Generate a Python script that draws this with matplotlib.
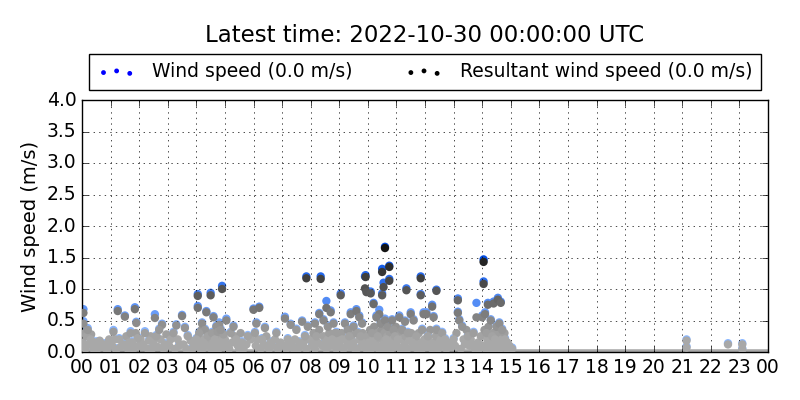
import numpy as np
import matplotlib
matplotlib.use("Agg")
import matplotlib.pyplot as plt

# hour of day (UTC) of each reading
hours = [
    0.05, 0.05, 0.10, 0.15, 0.30, 0.10, 0.40, 0.60, 0.80, 0.90, 0.20, 0.50,
    1.25, 1.50, 1.85, 1.90, 1.10, 1.30, 1.45, 1.70, 1.60, 1.95, 1.20, 1.75,
    2.55, 2.80, 2.20, 2.35, 2.10, 2.60, 2.90, 2.45, 2.70,
    3.50, 3.30, 3.60, 3.10, 3.40, 3.70, 3.85, 3.20, 3.90,
    4.05, 4.05, 4.35, 4.50, 4.90, 4.60, 4.80, 4.70, 4.20, 4.30, 4.10, 4.40,
    4.55, 4.65, 4.75, 4.85, 4.95, 4.25, 4.50, 4.00, 4.15, 4.60, 4.85,
    5.05, 5.20, 5.40, 5.60, 5.10, 5.80, 5.50, 5.30,
    6.00, 6.20, 6.10, 6.40, 6.30, 6.60, 6.80, 6.50, 6.90, 6.05,
    7.10, 7.30, 7.85, 7.50, 7.70, 7.20, 7.60, 7.90, 7.40, 7.80,
    8.35, 8.55, 8.30, 8.70, 8.15, 8.45, 8.60, 8.80, 8.90, 8.20, 8.50, 8.75,
    8.05, 8.95,
    9.05, 9.40, 9.60, 9.70, 9.90, 9.92, 9.95, 9.20, 9.30, 9.50, 9.80, 9.65,
    9.10, 9.45, 9.75, 9.85, 9.55, 9.35,
    10.10, 10.20, 10.40, 10.50, 10.55, 10.50, 10.60, 10.75, 10.75, 10.30,
    10.45, 10.60, 10.70, 10.85, 10.90, 10.15, 10.35, 10.65, 10.80, 10.25,
    10.55, 10.95,
    11.35, 11.85, 11.85, 11.10, 11.30, 11.50, 11.60, 11.95, 11.20, 11.40,
    11.70, 11.05, 11.55, 11.80, 11.25, 11.90,
    12.40, 12.05, 12.25, 12.30, 12.40, 12.60, 12.50, 12.70, 12.10, 12.85, 12.20,
    13.15, 13.15, 13.20, 13.30, 13.00, 13.50, 13.70, 13.65, 13.90, 13.40, 13.80,
    14.05, 14.05, 14.20, 14.40, 14.55, 14.65, 14.00, 14.10, 14.30, 14.50,
    14.60, 14.70, 14.15, 14.35, 14.45, 14.25, 14.55, 14.80, 14.90, 15.05, 14.75,
    21.15, 21.15, 22.60, 23.10, 23.10,
]

# resultant wind speed (m/s)
resultant = [
    0.62, 0.45, 0.30, 0.25, 0.20, 0.10, 0.05, 0.08, 0.12, 0.03, 0.35, 0.15,
    0.65, 0.56, 0.68, 0.46, 0.32, 0.20, 0.12, 0.30, 0.05, 0.22, 0.04, 0.15,
    0.54, 0.43, 0.30, 0.18, 0.08, 0.25, 0.12, 0.05, 0.35,
    0.57, 0.42, 0.38, 0.20, 0.10, 0.25, 0.05, 0.30, 0.15,
    0.89, 0.70, 0.63, 0.90, 1.00, 0.55, 0.43, 0.40, 0.45, 0.35, 0.30, 0.25,
    0.30, 0.20, 0.32, 0.15, 0.28, 0.15, 0.10, 0.20, 0.05, 0.05, 0.35,
    0.50, 0.30, 0.20, 0.15, 0.10, 0.25, 0.05, 0.40,
    0.67, 0.70, 0.45, 0.38, 0.20, 0.15, 0.30, 0.08, 0.10, 0.30,
    0.53, 0.43, 1.17, 0.35, 0.48, 0.20, 0.15, 0.40, 0.05, 0.25,
    1.16, 0.70, 0.60, 0.63, 0.45, 0.50, 0.40, 0.45, 0.30, 0.25, 0.15, 0.20,
    0.10, 0.08,
    0.90, 0.60, 0.65, 0.55, 1.01, 1.19, 0.95, 0.45, 0.35, 0.40, 0.45, 0.30,
    0.20, 0.15, 0.25, 0.10, 0.05, 0.25,
    0.93, 0.76, 0.60, 1.27, 1.03, 0.90, 1.65, 1.35, 1.13, 0.55,
    0.45, 0.50, 0.40, 0.50, 0.35, 0.30, 0.25, 0.20, 0.15, 0.10,
    0.05, 0.25,
    0.98, 1.17, 0.90, 0.55, 0.48, 0.60, 0.50, 0.60, 0.35, 0.30,
    0.25, 0.20, 0.15, 0.10, 0.05, 0.35,
    0.97, 0.60, 0.72, 0.55, 0.35, 0.30, 0.15, 0.20, 0.25, 0.08, 0.10,
    0.82, 0.62, 0.50, 0.40, 0.20, 0.25, 0.30, 0.10, 0.05, 0.12, 0.55,
    1.43, 1.08, 0.75, 0.77, 0.83, 0.78, 0.55, 0.60, 0.50, 0.40,
    0.45, 0.35, 0.30, 0.25, 0.20, 0.12, 0.10, 0.20, 0.08, 0.05, 0.15,
    0.18, 0.07, 0.12, 0.12, 0.04,
]

# scalar wind speed (m/s)
wind = [
    0.68, 0.49, 0.32, 0.27, 0.22, 0.12, 0.07, 0.10, 0.14, 0.05, 0.38, 0.17,
    0.68, 0.58, 0.71, 0.48, 0.35, 0.22, 0.14, 0.33, 0.07, 0.24, 0.06, 0.17,
    0.60, 0.45, 0.33, 0.20, 0.10, 0.27, 0.14, 0.07, 0.37,
    0.59, 0.44, 0.40, 0.22, 0.12, 0.27, 0.07, 0.32, 0.17,
    0.92, 0.73, 0.65, 0.94, 1.05, 0.57, 0.47, 0.42, 0.47, 0.37, 0.32, 0.27,
    0.32, 0.22, 0.34, 0.17, 0.30, 0.17, 0.12, 0.22, 0.07, 0.07, 0.37,
    0.53, 0.32, 0.22, 0.17, 0.12, 0.27, 0.07, 0.42,
    0.69, 0.72, 0.47, 0.40, 0.22, 0.17, 0.32, 0.10, 0.12, 0.32,
    0.56, 0.45, 1.20, 0.37, 0.50, 0.22, 0.17, 0.42, 0.07, 0.27,
    1.20, 0.81, 0.62, 0.66, 0.47, 0.52, 0.42, 0.47, 0.32, 0.27, 0.17, 0.22,
    0.12, 0.10,
    0.93, 0.63, 0.68, 0.58, 1.20, 1.22, 0.98, 0.47, 0.37, 0.42, 0.47, 0.32,
    0.22, 0.17, 0.27, 0.12, 0.07, 0.27,
    0.96, 0.78, 0.67, 1.32, 1.10, 0.93, 1.67, 1.37, 1.16, 0.58,
    0.47, 0.53, 0.42, 0.52, 0.37, 0.32, 0.27, 0.22, 0.17, 0.12,
    0.07, 0.27,
    1.01, 1.20, 0.92, 0.58, 0.50, 0.63, 0.52, 0.63, 0.37, 0.32,
    0.27, 0.22, 0.17, 0.12, 0.07, 0.37,
    0.99, 0.63, 0.75, 0.57, 0.37, 0.32, 0.17, 0.22, 0.27, 0.10, 0.12,
    0.85, 0.64, 0.52, 0.42, 0.22, 0.27, 0.32, 0.12, 0.07, 0.14, 0.78,
    1.47, 1.12, 0.78, 0.80, 0.86, 0.80, 0.58, 0.63, 0.52, 0.42,
    0.47, 0.37, 0.32, 0.27, 0.22, 0.14, 0.12, 0.22, 0.10, 0.07, 0.17,
    0.20, 0.09, 0.14, 0.14, 0.06,
]

# dense cluster of light readings (resultant, m/s) hiding the wind speed dots
low_hours = [
    0.02, 0.12, 0.22, 0.32, 0.42, 0.52, 0.62, 0.72, 0.85, 0.95,
    1.05, 1.15, 1.35, 1.55, 1.65, 1.80, 1.88, 1.98,
    2.05, 2.15, 2.30, 2.40, 2.50, 2.65, 2.75, 2.85, 2.95,
    3.05, 3.25, 3.35, 3.55, 3.65, 3.80, 3.95,
    4.02, 4.08, 4.12, 4.18, 4.22, 4.28, 4.32, 4.38, 4.42, 4.48,
    4.52, 4.58, 4.62, 4.68, 4.72, 4.78, 4.82, 4.88, 4.92, 4.98,
    5.00, 5.15, 5.25, 5.35, 5.45, 5.55, 5.65, 5.75, 5.90,
    6.08, 6.15, 6.25, 6.35, 6.45, 6.55, 6.65, 6.75, 6.85, 6.95,
    7.05, 7.15, 7.25, 7.35, 7.45, 7.55, 7.65, 7.75, 7.85, 7.95,
    8.02, 8.10, 8.15, 8.25, 8.30, 8.40, 8.45, 8.55, 8.60, 8.65,
    8.70, 8.80, 8.85, 8.90, 8.98,
    9.02, 9.08, 9.15, 9.22, 9.28, 9.32, 9.40, 9.42, 9.50, 9.58,
    9.62, 9.70, 9.78, 9.82, 9.88, 9.95, 9.98,
    10.02, 10.08, 10.12, 10.18, 10.22, 10.28, 10.32, 10.38, 10.42, 10.48,
    10.52, 10.58, 10.62, 10.68, 10.72, 10.78, 10.82, 10.88, 10.92, 10.98,
    11.02, 11.08, 11.12, 11.18, 11.28, 11.32, 11.38, 11.45, 11.52, 11.58,
    11.65, 11.72, 11.78, 11.85, 11.92, 11.98,
    12.02, 12.12, 12.18, 12.25, 12.32, 12.38, 12.45, 12.55, 12.65, 12.75,
    12.80, 12.95,
    13.05, 13.10, 13.25, 13.35, 13.45, 13.55, 13.60, 13.75, 13.85, 13.95,
    14.02, 14.08, 14.12, 14.18, 14.22, 14.28, 14.32, 14.38, 14.42, 14.48,
    14.52, 14.58, 14.62, 14.68, 14.72, 14.78, 14.85, 14.88, 14.95,
]
low_speed = [
    0.15, 0.05, 0.12, 0.28, 0.15, 0.04, 0.18, 0.10, 0.05, 0.20,
    0.10, 0.20, 0.08, 0.25, 0.15, 0.05, 0.30, 0.10,
    0.20, 0.12, 0.05, 0.25, 0.15, 0.08, 0.20, 0.05, 0.28,
    0.10, 0.05, 0.20, 0.12, 0.05, 0.18, 0.08,
    0.10, 0.25, 0.15, 0.35, 0.05, 0.20, 0.10, 0.30, 0.15, 0.22,
    0.05, 0.15, 0.30, 0.10, 0.22, 0.05, 0.25, 0.12, 0.20, 0.08,
    0.20, 0.05, 0.15, 0.25, 0.10, 0.30, 0.05, 0.12, 0.20,
    0.10, 0.20, 0.05, 0.12, 0.25, 0.05, 0.10, 0.20, 0.05, 0.15,
    0.10, 0.05, 0.15, 0.10, 0.20, 0.05, 0.10, 0.15, 0.05, 0.20,
    0.20, 0.30, 0.05, 0.15, 0.35, 0.10, 0.25, 0.05, 0.20, 0.30,
    0.10, 0.15, 0.30, 0.05, 0.20,
    0.10, 0.30, 0.05, 0.20, 0.12, 0.35, 0.08, 0.25, 0.15, 0.30,
    0.05, 0.20, 0.10, 0.30, 0.15, 0.05, 0.25,
    0.15, 0.35, 0.05, 0.20, 0.40, 0.12, 0.30, 0.05, 0.22, 0.35,
    0.12, 0.30, 0.05, 0.25, 0.12, 0.30, 0.05, 0.20, 0.10, 0.40,
    0.10, 0.30, 0.05, 0.20, 0.12, 0.25, 0.05, 0.18, 0.30, 0.08,
    0.20, 0.05, 0.30, 0.15, 0.05, 0.20,
    0.08, 0.20, 0.35, 0.05, 0.15, 0.25, 0.05, 0.20, 0.10, 0.05,
    0.15, 0.10,
    0.10, 0.30, 0.05, 0.20, 0.35, 0.10, 0.20, 0.05, 0.15, 0.25,
    0.10, 0.35, 0.05, 0.20, 0.40, 0.05, 0.15, 0.30, 0.05, 0.25,
    0.15, 0.30, 0.05, 0.20, 0.10, 0.30, 0.05, 0.15, 0.10,
]

# calm readings (0.0 m/s) sit on the axis through the whole day
calm_start, calm_end = 0.0, 24.0

xtick_labels = ["%02d" % (h % 24) for h in range(25)]

title = "Latest time: 2022-10-30 00:00:00 UTC"
wind_label = "Wind speed (0.0 m/s)"
res_label = "Resultant wind speed (0.0 m/s)"

plt.style.use("classic")
plt.rcParams["font.family"] = "DejaVu Sans"

hours = np.array(hours)
resultant = np.array(resultant)
wind = np.array(wind)
low_hours = np.array(low_hours)
low_speed = np.array(low_speed)


def grey_for(v):
    # darker grey the stronger the reading
    g = np.clip(0.66 - 0.42 * (v - 0.2), 0.08, 0.66)
    return np.column_stack([g, g, g])


def blue_for(v):
    t = np.clip((v - 0.3) / 1.2, 0, 1)
    return np.column_stack([0.55 - 0.55 * t, 0.72 - 0.42 * t, 1.0 - 0.1 * t])


fig = plt.figure(figsize=(8, 4), dpi=100, facecolor="white")
ax = fig.add_axes([0.1025, 0.12, 0.8575, 0.63])

ax.hlines(0, calm_start, calm_end, colors="#a8a8a8", linewidth=4, zorder=1)
ax.scatter(hours, wind, s=36, c=blue_for(wind), edgecolors="none", zorder=2)
ax.scatter(low_hours, low_speed, s=36, c=grey_for(low_speed),
           edgecolors="none", zorder=3)
ax.scatter(hours, resultant, s=36, c=grey_for(resultant), edgecolors="none",
           zorder=4)

# legend handles
ax.scatter([], [], s=12, c="blue", edgecolors="none", label=wind_label)
ax.scatter([], [], s=12, c="black", edgecolors="none", label=res_label)

ax.set_xlim(0, 24)
ax.set_ylim(0, 4.0)
ax.set_xticks(range(25))
ax.set_xticklabels(xtick_labels)
ax.set_yticks(np.arange(0, 4.01, 0.5))
ax.set_ylabel("Wind speed (m/s)", fontsize=14)
ax.tick_params(labelsize=13.5)
ax.grid(True)

leg = ax.legend(loc="lower center", bbox_to_anchor=(0.5, 1.04), ncol=2,
                fontsize=13.5, scatterpoints=3, frameon=True, fancybox=False,
                borderaxespad=0, columnspacing=2.8, handletextpad=0.9,
                borderpad=0.45)
leg.get_frame().set_edgecolor("black")

fig.text(0.53125, 0.9125, title, ha="center", va="center", fontsize=16.5)

fig.savefig("out.png", dpi=100, facecolor="white")
